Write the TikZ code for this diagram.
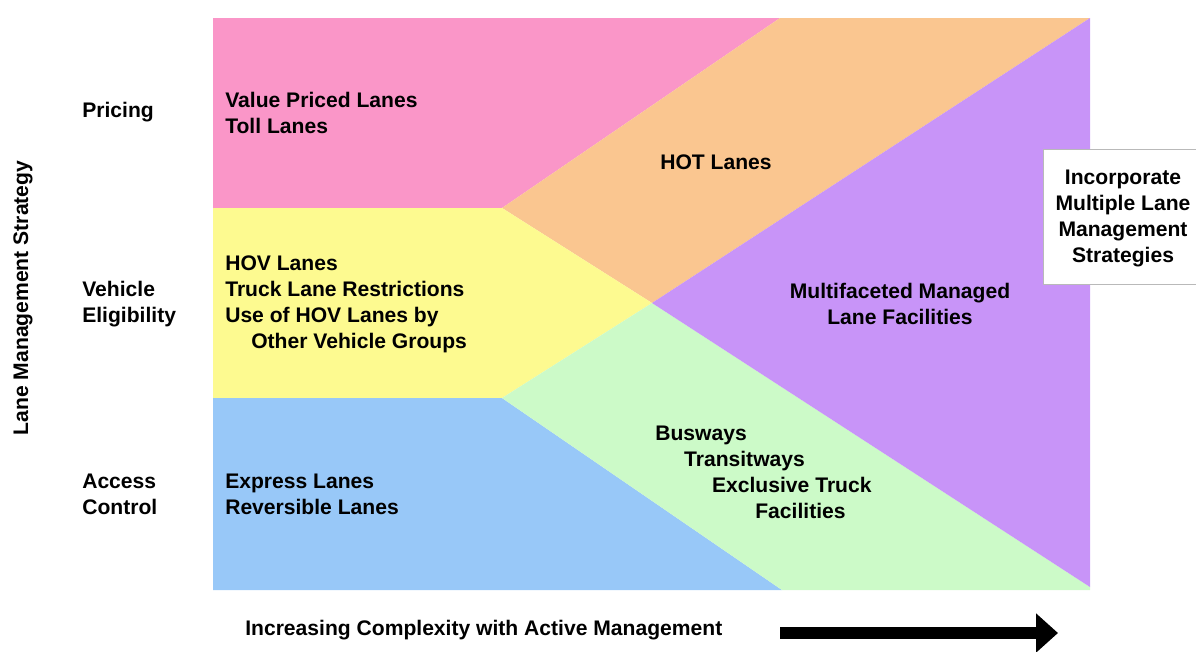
\documentclass[tikz,border=0pt]{standalone}
\usepackage{fontspec}
\setmainfont{Liberation Sans}
\usetikzlibrary{arrows.meta}

\definecolor{pricepink}{HTML}{FA96C8}
\definecolor{hotorange}{HTML}{FAC690}
\definecolor{hovyellow}{HTML}{FDFA90}
\definecolor{accessblue}{HTML}{98C8F8}
\definecolor{busgreen}{HTML}{CCFAC8}
\definecolor{multipurple}{HTML}{C894F8}

\tikzset{
  lbl/.style={font=\fontsize{15}{18.5}\selectfont\bfseries, align=left, anchor=west, inner sep=0pt, text=black},
  ctrlbl/.style={lbl, align=center, anchor=center},
}

\begin{document}
\begin{tikzpicture}[x=0.025cm, y=-0.025cm]
	\useasboundingbox (0,0) rectangle (1196,651);
	
	% coloured regions
	\fill[pricepink] (213,18) -- (780,18) -- (502,208) -- (213,208) -- cycle;
	\fill[hotorange] (780,18) -- (1090,18) -- (652,303) -- (502,208) -- cycle;
	\fill[hovyellow] (213,208) -- (502,208) -- (652,303) -- (502,398) -- (213,398) -- cycle;
	\fill[accessblue] (213,398) -- (502,398) -- (782,590) -- (213,590) -- cycle;
	\fill[busgreen] (502,398) -- (652,303) -- (1090,587) -- (1090,590) -- (782,590) -- cycle;
	\fill[multipurple] (1090,18) -- (652,303) -- (1090,587) -- cycle;
	
	% axis labels
	\node[lbl, anchor=center, rotate=90] (axisy) at (23,298) {Lane Management Strategy};
	\node[lbl] (pricing) at (82,112) {Pricing};
	\node[lbl] (vehicle) at (82,304) {Vehicle\\Eligibility};
	\node[lbl] (access) at (82,494) {Access\\Control};
	
	% region texts
	\node[lbl] (valuepriced) at (225,113) {Value Priced Lanes\\Toll Lanes};
	\node[ctrlbl] (hot) at (716,162) {HOT Lanes};
	\node[lbl] (hov) at (225,304) {HOV Lanes\\Truck Lane Restrictions\\Use of HOV Lanes by\\\hspace*{0.65cm}Other Vehicle Groups};
	\node[ctrlbl] (multi) at (900,304) {Multifaceted Managed\\Lane Facilities};
	\node[lbl] (busways) at (655,472) {Busways\\\hspace*{0.72cm}Transitways\\\hspace*{1.42cm}Exclusive Truck\\\hspace*{2.5cm}Facilities};
	\node[lbl] (express) at (225,494) {Express Lanes\\Reversible Lanes};
	
	% side box
	\node[draw=gray!55, fill=white, line width=0.8pt, minimum width=3.82cm, minimum height=3.38cm] (stratbox) at (1120,217) {};
	\node[ctrlbl] (strat) at (1123,218) {Incorporate\\Multiple Lane\\Management\\Strategies};
	
	% bottom axis
	\node[lbl] (complexity) at (245,630) {Increasing Complexity with Active Management};
	\coordinate (arrtail) at (780,633);
	\coordinate (arrtip) at (1058,633);
	\draw[line width=9.2pt, -{Triangle[length=0.55cm, width=0.95cm]}] (arrtail) -- (arrtip);
\end{tikzpicture}
\end{document}
